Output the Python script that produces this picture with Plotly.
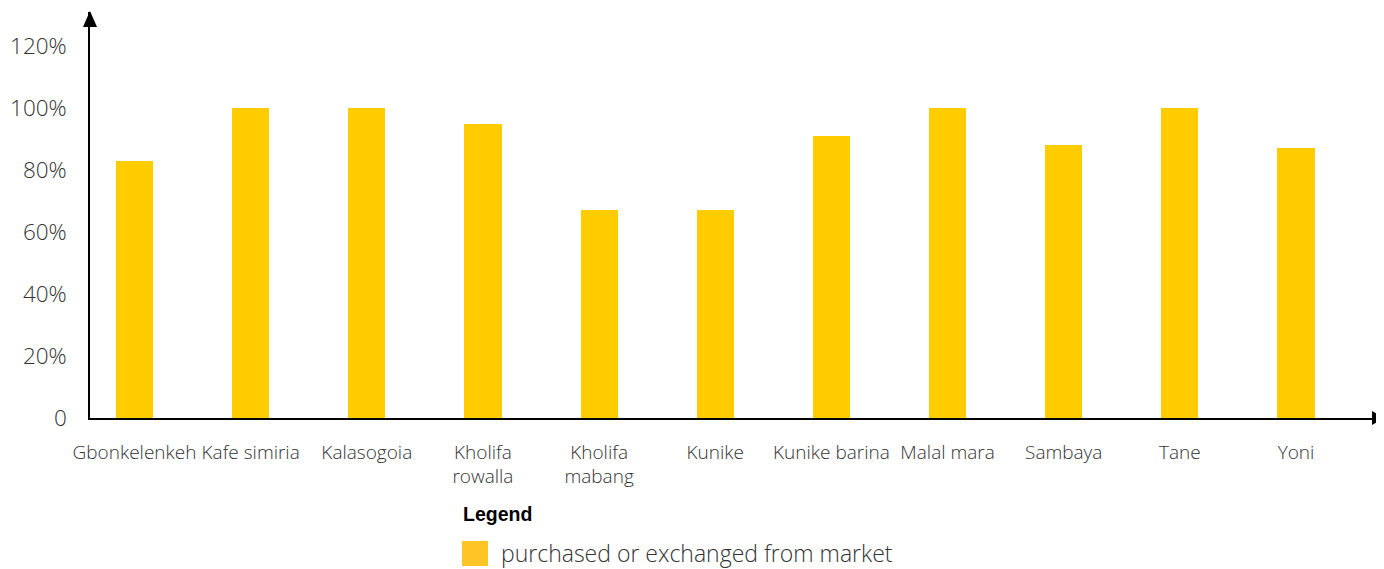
import plotly.graph_objects as go

categories = ["Gbonkelenkeh", "Kafe simiria", "Kalasogoia", "Kholifa<br>rowalla",
              "Kholifa<br>mabang", "Kunike", "Kunike barina", "Malal mara",
              "Sambaya", "Tane", "Yoni"]
values = [83, 100, 100, 95, 67, 67, 91, 100, 88, 100, 87]
tick_vals = [0, 20, 40, 60, 80, 100, 120]
tick_text = ["0", "20%", "40%", "60%", "80%", "100%", "120%"]
series_name = "purchased or exchanged from market"

OFF = 8  # page body margin
W, H = 1384 - OFF, 569 - OFF
L, R, T = 90 - OFF, 4, 12 - OFF
BASE = 418 - OFF
B = H - BASE
PW, PH = W - L - R, H - T - B


def px(x):
    return (x - OFF - L) / PW


def py(y):
    return (BASE - (y - OFF)) / PH


fig = go.Figure()
fig.add_trace(go.Bar(
    x=list(range(len(categories))), y=values, name=series_name,
    marker=dict(color="#FFCC00", line=dict(width=0)), width=0.32,
    showlegend=False,
))

font_family = "Open Sans, Noto Sans, sans-serif"
fig.update_layout(
    width=W, height=H,
    margin=dict(l=L, r=R, t=T, b=B, pad=0, autoexpand=False),
    paper_bgcolor="white", plot_bgcolor="white",
    font=dict(family=font_family, color="#333333", weight=300),
    xaxis=dict(
        range=[-0.383, 10.723], tickmode="array",
        tickvals=list(range(len(categories))), ticktext=categories,
        showgrid=False, zeroline=False, showline=True, linecolor="black",
        linewidth=1.5, ticks="", tickfont=dict(size=19, color="#333333", weight=300),
        ticklabelstandoff=16, tickangle=0, automargin=False,
    ),
    yaxis=dict(
        range=[0, PH / 3.1], tickmode="array", tickvals=tick_vals, ticktext=tick_text,
        showgrid=False, zeroline=False, showline=True, linecolor="black",
        linewidth=1.5, ticks="", tickfont=dict(size=22.5, color="#333333", weight=300),
        ticklabelstandoff=17, automargin=False,
    ),
    bargap=0,
)

# axis arrowheads
fig.add_shape(type="path", xref="paper", yref="paper",
              path=f"M {px(90)},{py(11)} L {px(83)},{py(27)} L {px(97)},{py(27)} Z",
              fillcolor="black", line=dict(width=0))
fig.add_shape(type="path", xref="paper", yref="paper",
              path=f"M {px(1384)},{py(418)} L {px(1372)},{py(411)} L {px(1372)},{py(425)} Z",
              fillcolor="black", line=dict(width=0))

# manual legend
fig.add_annotation(text="<b>Legend</b>", xref="paper", yref="paper",
                   x=px(461), y=py(514), xanchor="left", yanchor="middle",
                   showarrow=False,
                   font=dict(family="Liberation Sans Narrow, Arial Narrow, sans-serif",
                             size=19.5, color="black"))
fig.add_shape(type="rect", xref="paper", yref="paper",
              x0=px(462), x1=px(488), y0=py(566), y1=py(541),
              fillcolor="#FFC425", line=dict(width=0))
fig.add_annotation(text=series_name, xref="paper", yref="paper",
                   x=px(499), y=py(553), xanchor="left", yanchor="middle",
                   showarrow=False,
                   font=dict(family=font_family, size=23, color="#333333", weight=300))

fig.write_html("out.html")
